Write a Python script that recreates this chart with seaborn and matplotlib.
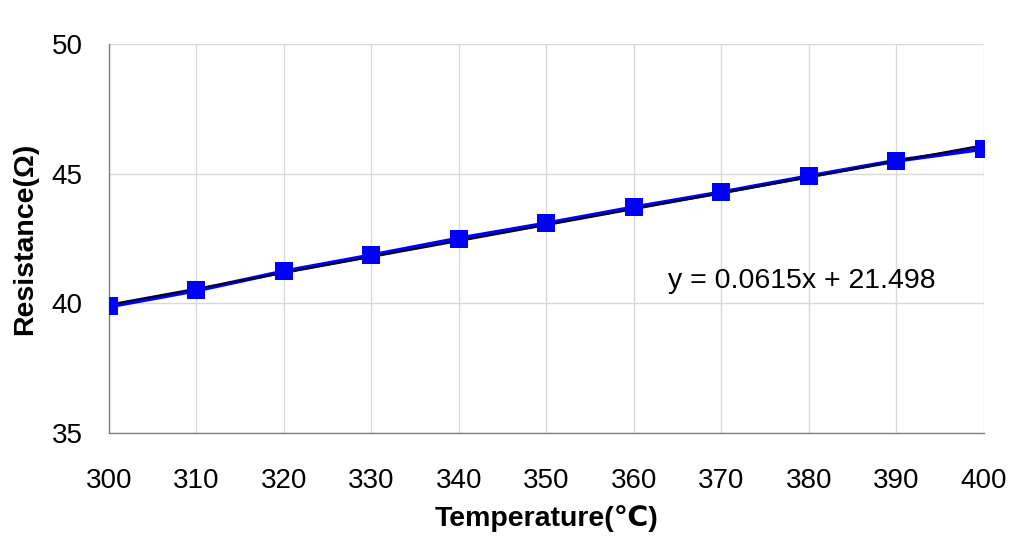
import matplotlib
matplotlib.use("Agg")
import matplotlib.pyplot as plt
import seaborn as sns
import numpy as np
import pandas as pd

temperature = [300, 310, 320, 330, 340, 350, 360, 370, 380, 390, 400]
resistance = [39.88, 40.5, 41.23, 41.85, 42.5, 43.08, 43.7, 44.28, 44.9, 45.5, 45.96]
slope = 0.0615
intercept = 21.498
equation_label = "y = 0.0615x + 21.498"
x_ticks = [300, 310, 320, 330, 340, 350, 360, 370, 380, 390, 400]
y_ticks = [35, 40, 45, 50]

sns.set_theme(style="white")
plt.rcParams['font.family'] = ['Liberation Sans', 'DejaVu Sans']
plt.rcParams['text.color'] = 'black'
plt.rcParams['axes.labelcolor'] = 'black'

df = pd.DataFrame({"Temperature": temperature, "Resistance": resistance})
trend = pd.DataFrame({"Temperature": temperature,
                      "Fit": [slope * t + intercept for t in temperature]})

fig = plt.figure(figsize=(10.31, 5.55), dpi=100)
ax = fig.add_axes([0.1057, 0.2198, 0.9544 - 0.1057, 0.9207 - 0.2198])

sns.lineplot(data=df, x="Temperature", y="Resistance", ax=ax, color="#0000FF",
             linewidth=3, zorder=2)
sns.lineplot(data=trend, x="Temperature", y="Fit", ax=ax, color="#000033",
             linewidth=1.6, zorder=3)
sns.scatterplot(data=df, x="Temperature", y="Resistance", ax=ax, color="#0000FF",
                marker="s", s=150, edgecolor="#0000FF", linewidth=0, zorder=4)

ax.set_xlim(300, 400)
ax.set_ylim(35, 50)
ax.set_xticks(x_ticks)
ax.set_yticks(y_ticks)
ax.grid(True, color="#D9D9D9", linewidth=1)
ax.set_axisbelow(True)
for side in ["top", "right"]:
    ax.spines[side].set_visible(False)
for side in ["left", "bottom"]:
    ax.spines[side].set_color("#808080")
    ax.spines[side].set_linewidth(1)
ax.tick_params(axis="both", which="both", direction="out", length=6, width=1,
               color="#808080", labelsize=20, labelcolor="black")
ax.tick_params(axis="x", pad=19)
ax.tick_params(axis="y", pad=13)
ax.set_xlabel("Temperature(℃)", fontsize=20.5, fontweight="bold", labelpad=8)
ax.set_ylabel("Resistance(Ω)", fontsize=20.5, fontweight="bold", labelpad=10)

ax.text(363.9, 40.85, equation_label, fontsize=20.5, ha="left", va="center")

fig.savefig("out.png", dpi=100, facecolor="white")
